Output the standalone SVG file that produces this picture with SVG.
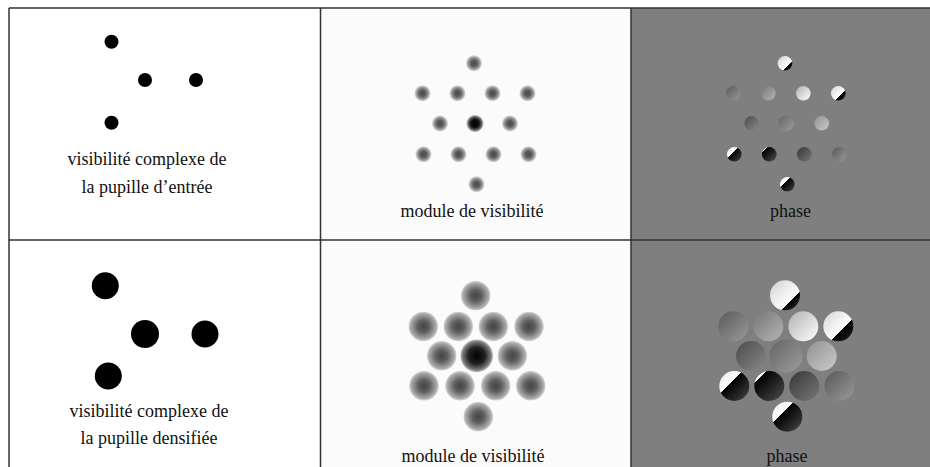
<svg xmlns="http://www.w3.org/2000/svg" width="930" height="467" viewBox="0 0 930 467">
<style>
  .lbl { font-family: "Liberation Serif", "Times New Roman", serif; font-size: 18px; fill: #111; text-anchor: middle; }
  .grid { stroke: #333; stroke-width: 1.5; fill: none; }
  .dot { fill: #000; }
</style>
<defs>
  <radialGradient id="ms">
    <stop offset="0" stop-color="#4a4a4a"/>
    <stop offset="0.35" stop-color="#5a5a5a"/>
    <stop offset="0.7" stop-color="#9a9a9a"/>
    <stop offset="1" stop-color="#fbfbfb"/>
  </radialGradient>
  <radialGradient id="mc">
    <stop offset="0" stop-color="#000"/>
    <stop offset="0.45" stop-color="#111"/>
    <stop offset="0.75" stop-color="#666"/>
    <stop offset="1" stop-color="#fbfbfb"/>
  </radialGradient>
  <radialGradient id="mb">
    <stop offset="0" stop-color="#444"/>
    <stop offset="0.4" stop-color="#606060"/>
    <stop offset="0.85" stop-color="#aaa"/>
    <stop offset="0.96" stop-color="#d0d0d0"/>
    <stop offset="1" stop-color="#f0f0f0"/>
  </radialGradient>
  <radialGradient id="mbc">
    <stop offset="0" stop-color="#000"/>
    <stop offset="0.5" stop-color="#202020"/>
    <stop offset="0.85" stop-color="#777"/>
    <stop offset="0.96" stop-color="#b0b0b0"/>
    <stop offset="1" stop-color="#e8e8e8"/>
  </radialGradient>
  <!-- phase ramps, upper-left to lower-right -->
  <linearGradient id="p1" x1="0" y1="0" x2="1" y2="1">
    <stop offset="0" stop-color="#d0d0d0"/><stop offset="0.68" stop-color="#fff"/>
    <stop offset="0.68" stop-color="#000"/><stop offset="1" stop-color="#303030"/>
  </linearGradient>
  <linearGradient id="p2" x1="0" y1="0" x2="1" y2="1">
    <stop offset="0" stop-color="#5a5a5a"/><stop offset="1" stop-color="#9a9a9a"/>
  </linearGradient>
  <linearGradient id="p3" x1="0" y1="0" x2="1" y2="1">
    <stop offset="0" stop-color="#767676"/><stop offset="1" stop-color="#b4b4b4"/>
  </linearGradient>
  <linearGradient id="p4" x1="0" y1="0" x2="1" y2="1">
    <stop offset="0" stop-color="#b0b0b0"/><stop offset="0.86" stop-color="#f4f4f4"/>
    <stop offset="0.86" stop-color="#000"/><stop offset="1" stop-color="#181818"/>
  </linearGradient>
  <linearGradient id="p5" x1="0" y1="0" x2="1" y2="1">
    <stop offset="0" stop-color="#d4d4d4"/><stop offset="0.62" stop-color="#fff"/>
    <stop offset="0.62" stop-color="#000"/><stop offset="1" stop-color="#262626"/>
  </linearGradient>
  <linearGradient id="p6" x1="0" y1="0" x2="1" y2="1">
    <stop offset="0" stop-color="#4a4a4a"/><stop offset="1" stop-color="#8a8a8a"/>
  </linearGradient>
  <linearGradient id="p7" x1="0" y1="0" x2="1" y2="1">
    <stop offset="0" stop-color="#646464"/><stop offset="1" stop-color="#9c9c9c"/>
  </linearGradient>
  <linearGradient id="p8" x1="0" y1="0" x2="1" y2="1">
    <stop offset="0" stop-color="#929292"/><stop offset="1" stop-color="#cacaca"/>
  </linearGradient>
  <linearGradient id="p9" x1="0" y1="0" x2="1" y2="1">
    <stop offset="0" stop-color="#e4e4e4"/><stop offset="0.38" stop-color="#fff"/>
    <stop offset="0.38" stop-color="#000"/><stop offset="1" stop-color="#484848"/>
  </linearGradient>
  <linearGradient id="p10" x1="0" y1="0" x2="1" y2="1">
    <stop offset="0" stop-color="#eeeeee"/><stop offset="0.2" stop-color="#fff"/>
    <stop offset="0.2" stop-color="#000"/><stop offset="1" stop-color="#505050"/>
  </linearGradient>
  <linearGradient id="p11" x1="0" y1="0" x2="1" y2="1">
    <stop offset="0" stop-color="#363636"/><stop offset="1" stop-color="#787878"/>
  </linearGradient>
  <linearGradient id="p12" x1="0" y1="0" x2="1" y2="1">
    <stop offset="0" stop-color="#585858"/><stop offset="1" stop-color="#9a9a9a"/>
  </linearGradient>
  <linearGradient id="p13" x1="0" y1="0" x2="1" y2="1">
    <stop offset="0" stop-color="#e6e6e6"/><stop offset="0.36" stop-color="#fff"/>
    <stop offset="0.36" stop-color="#000"/><stop offset="1" stop-color="#4a4a4a"/>
  </linearGradient>
</defs>

<!-- panel backgrounds -->
<rect x="0" y="0" width="930" height="467" fill="#fff"/>
<rect x="321" y="8" width="310" height="459" fill="#fbfbfb"/>
<rect x="631" y="8" width="299" height="459" fill="#7f7f7f"/>

<!-- top-left: entrance pupil -->
<g id="pupille-entree">
  <circle class="dot" cx="111.5" cy="41.7" r="7"/>
  <circle class="dot" cx="145" cy="80" r="7"/>
  <circle class="dot" cx="196" cy="80" r="7"/>
  <circle class="dot" cx="111.5" cy="122.7" r="7"/>
  <text class="lbl" x="147" y="165">visibilité complexe de</text>
  <text class="lbl" x="147" y="193">la pupille d’entrée</text>
</g>

<!-- top-middle: modulus -->
<g id="module-entree">
  <circle cx="474" cy="63.3" r="8.5" fill="url(#ms)"/>
  <circle cx="422.5" cy="93.3" r="8.5" fill="url(#ms)"/>
  <circle cx="457.5" cy="93.3" r="8.5" fill="url(#ms)"/>
  <circle cx="492.5" cy="93.3" r="8.5" fill="url(#ms)"/>
  <circle cx="527.5" cy="93.3" r="8.5" fill="url(#ms)"/>
  <circle cx="440" cy="123.5" r="8.5" fill="url(#ms)"/>
  <circle cx="475" cy="123.5" r="9" fill="url(#mc)"/>
  <circle cx="510" cy="123.5" r="8.5" fill="url(#ms)"/>
  <circle cx="423.5" cy="154.3" r="8.5" fill="url(#ms)"/>
  <circle cx="458.5" cy="154.3" r="8.5" fill="url(#ms)"/>
  <circle cx="493.5" cy="154.3" r="8.5" fill="url(#ms)"/>
  <circle cx="528.5" cy="154.3" r="8.5" fill="url(#ms)"/>
  <circle cx="476.5" cy="184.3" r="8.5" fill="url(#ms)"/>
  <text class="lbl" x="472" y="217">module de visibilité</text>
</g>

<!-- top-right: phase -->
<g id="phase-entree">
  <circle cx="785" cy="63.3" r="7.3" fill="url(#p1)"/>
  <circle cx="733.3" cy="93.3" r="7.3" fill="url(#p2)"/>
  <circle cx="768.3" cy="93.3" r="7.3" fill="url(#p3)"/>
  <circle cx="803.3" cy="93.3" r="7.3" fill="url(#p4)"/>
  <circle cx="838.3" cy="93.3" r="7.3" fill="url(#p5)"/>
  <circle cx="751.7" cy="123.3" r="7.3" fill="url(#p6)"/>
  <circle cx="786" cy="123.3" r="7.8" fill="url(#p7)"/>
  <circle cx="821.7" cy="123.3" r="7.3" fill="url(#p8)"/>
  <circle cx="734.3" cy="154.3" r="7.3" fill="url(#p9)"/>
  <circle cx="769.3" cy="154.3" r="7.3" fill="url(#p10)"/>
  <circle cx="804.3" cy="154.3" r="7.3" fill="url(#p11)"/>
  <circle cx="839.3" cy="154.3" r="7.3" fill="url(#p12)"/>
  <circle cx="787.3" cy="184.3" r="7.3" fill="url(#p13)"/>
  <text class="lbl" x="790.5" y="217">phase</text>
</g>

<!-- bottom-left: densified pupil -->
<g id="pupille-densifiee">
  <circle class="dot" cx="105.3" cy="285.7" r="13.5"/>
  <circle class="dot" cx="145" cy="334" r="14"/>
  <circle class="dot" cx="205" cy="334" r="13.5"/>
  <circle class="dot" cx="108.3" cy="376" r="13.5"/>
  <text class="lbl" x="149" y="417">visibilité complexe de</text>
  <text class="lbl" x="149" y="444">la pupille densifiée</text>
</g>

<!-- bottom-middle: modulus -->
<g id="module-densifiee">
  <circle cx="475.7" cy="295.7" r="15" fill="url(#mb)"/>
  <circle cx="423.3" cy="326.5" r="15" fill="url(#mb)"/>
  <circle cx="458.3" cy="326.5" r="15" fill="url(#mb)"/>
  <circle cx="493.3" cy="326.5" r="15" fill="url(#mb)"/>
  <circle cx="529" cy="326.5" r="15" fill="url(#mb)"/>
  <circle cx="441.7" cy="355.8" r="15" fill="url(#mb)"/>
  <circle cx="476.7" cy="355.8" r="16.5" fill="url(#mbc)"/>
  <circle cx="512.3" cy="355.8" r="15" fill="url(#mb)"/>
  <circle cx="424" cy="385.8" r="15" fill="url(#mb)"/>
  <circle cx="460" cy="385.8" r="15" fill="url(#mb)"/>
  <circle cx="495.7" cy="385.8" r="15" fill="url(#mb)"/>
  <circle cx="530.7" cy="385.8" r="15" fill="url(#mb)"/>
  <circle cx="478.3" cy="416.7" r="15" fill="url(#mb)"/>
  <text class="lbl" x="473" y="462">module de visibilité</text>
</g>

<!-- bottom-right: phase -->
<g id="phase-densifiee">
  <circle cx="785" cy="295.3" r="15" fill="url(#p1)"/>
  <circle cx="733.3" cy="326.3" r="15" fill="url(#p2)"/>
  <circle cx="768.3" cy="326.3" r="15" fill="url(#p3)"/>
  <circle cx="803.3" cy="326.3" r="15" fill="url(#p4)"/>
  <circle cx="838.3" cy="326.3" r="15" fill="url(#p5)"/>
  <circle cx="751" cy="356" r="15" fill="url(#p6)"/>
  <circle cx="786" cy="356" r="16.5" fill="url(#p7)"/>
  <circle cx="821.7" cy="356" r="15" fill="url(#p8)"/>
  <circle cx="734.3" cy="386" r="15" fill="url(#p9)"/>
  <circle cx="769.3" cy="386" r="15" fill="url(#p10)"/>
  <circle cx="804.3" cy="386" r="15" fill="url(#p11)"/>
  <circle cx="839.3" cy="386" r="15" fill="url(#p12)"/>
  <circle cx="787.3" cy="416.7" r="15" fill="url(#p13)"/>
  <text class="lbl" x="787" y="462">phase</text>
</g>

<!-- table rules -->
<g id="grid">
  <line class="grid" x1="9" y1="8" x2="930" y2="8"/>
  <line class="grid" x1="9" y1="240" x2="930" y2="240"/>
  <line class="grid" x1="9" y1="8" x2="9" y2="467"/>
  <line class="grid" x1="320.5" y1="8" x2="320.5" y2="467"/>
  <line class="grid" x1="631" y1="8" x2="631" y2="467"/>
</g>
</svg>
